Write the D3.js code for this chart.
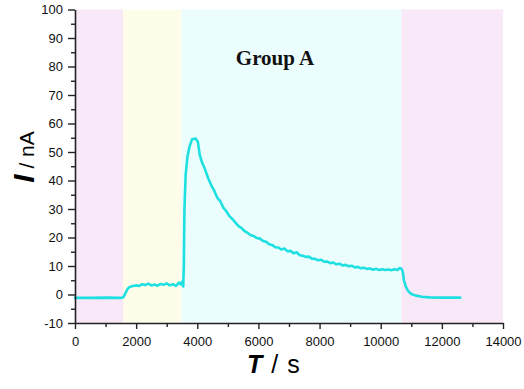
<!DOCTYPE html>
<html>
<head>
<meta charset="utf-8">
<script src="https://cdn.jsdelivr.net/npm/d3@7"></script>
<style>
  body { margin: 0; background: #fff; }
  svg { display: block; font-family: Arial, 'Liberation Sans', sans-serif; }
</style>
</head>
<body>
<svg id="chart"></svg>
<script>
const timeValues = [
  0, 500, 1000, 1500, 1580, 1650, 1720, 1800, 1900, 2000, 2100, 2200, 2300, 2400, 2500,
  2600, 2700, 2800, 2900, 3000, 3100, 3200, 3300, 3400, 3450, 3500, 3540, 3560, 3580, 3620,
  3680, 3750, 3830, 3950, 4020, 4080, 4150, 4250, 4350, 4450, 4550, 4650, 4750, 4850, 4950,
  5050, 5150, 5250, 5350, 5450, 5550, 5650, 5750, 5850, 5950, 6050, 6150, 6250, 6350, 6450,
  6550, 6650, 6750, 6850, 6950, 7050, 7150, 7250, 7350, 7450, 7550, 7650, 7750, 7850, 7950,
  8050, 8150, 8250, 8350, 8450, 8550, 8650, 8750, 8850, 8950, 9050, 9150, 9250, 9350, 9450,
  9550, 9650, 9750, 9850, 9950, 10050, 10150, 10250, 10350, 10450, 10550, 10620, 10680, 10720, 10760,
  10820, 10900, 11000, 11150, 11350, 11600, 12000, 12600
];
const currentValues = [
  -1.2, -1.2, -1.1, -1.2, -1.0, 0.5, 2.0, 2.7, 3.0, 3.2, 3.0, 3.6, 3.3, 3.8, 3.2,
  3.5, 3.1, 3.7, 3.4, 3.9, 3.2, 3.6, 3.0, 4.2, 3.6, 4.4, 2.8, 10, 30, 42,
  48.5, 52, 54.5, 54.7, 53.5, 49, 46.5, 44, 41, 38.5, 36.5, 34, 32.8, 30.5, 29.2,
  27.5, 26.5, 25.2, 24.0, 23.3, 22.2, 21.6, 20.8, 20.5, 19.8, 19.6, 18.8, 18.5, 17.6, 17.4,
  16.6, 16.5, 15.8, 16.1, 15.2, 15.3, 14.5, 14.8, 13.8, 13.6, 13.2, 13.3, 12.6, 12.5, 12.0,
  12.2, 11.5, 11.6, 11.0, 11.2, 10.6, 10.8, 10.2, 10.4, 9.9, 10.1, 9.5, 9.7, 9.2, 9.4,
  9.0, 9.1, 8.7, 9.0, 8.6, 8.9, 8.6, 8.8, 8.5, 8.9, 8.6, 9.3, 9.0, 8.0, 5.0,
  2.8, 1.2, 0.2, -0.4, -0.8, -1.0, -1.1, -1.1
];
const bandStarts = [0, 1570, 3480, 10680];
const bandEnds = [1570, 3480, 10680, 14000];
const bandColors = ['#f8e8f8', '#fdfdea', '#ebfdfd', '#f8e8f8'];
const xTicks = [0, 2000, 4000, 6000, 8000, 10000, 12000, 14000];
const yTicks = [-10, 0, 10, 20, 30, 40, 50, 60, 70, 80, 90, 100];
const titleText = 'Group A';

function drawChart(id) {
  const totalWidth = 524;
  const totalHeight = 389;
  const margin = { top: 9.5, right: 21, bottom: 66, left: 75 };
  const width = totalWidth - margin.left - margin.right;
  const height = totalHeight - margin.top - margin.bottom;

  const svg = d3.select(id).attr('width', totalWidth).attr('height', totalHeight);
  const g = svg.append('g').attr('transform', `translate(${margin.left}, ${margin.top})`);

  const xScale = d3.scaleLinear([0, 14000], [0, width]);
  const yScale = d3.scaleLinear([-10, 100], [height, 0]);
  const plainFormat = (d) => String(d);

  /* background bands */
  g.selectAll('.band')
    .data(bandStarts)
    .enter()
    .append('rect')
    .attr('class', 'band')
    .attr('x', (d) => xScale(d))
    .attr('y', 0)
    .attr('width', (d, i) => xScale(bandEnds[i]) - xScale(d))
    .attr('height', height)
    .attr('fill', (d, i) => bandColors[i]);

  /* title */
  g.append('text')
    .attr('x', xScale(7000) - 14)
    .attr('y', 55.5)
    .attr('text-anchor', 'middle')
    .attr('font-family', "'Liberation Serif', 'Times New Roman', serif")
    .attr('font-weight', 'bold')
    .attr('font-size', 21)
    .attr('fill', '#111')
    .text(titleText);

  /* data line */
  const points = timeValues.map((t, i) => [t, currentValues[i]]);
  g.append('path')
    .attr('fill', 'none')
    .attr('stroke', '#1ee0e0')
    .attr('stroke-width', 2.6)
    .attr('stroke-linejoin', 'round')
    .attr('stroke-linecap', 'round')
    .attr('d', d3.line().x((d) => xScale(d[0])).y((d) => yScale(d[1]))(points));

  /* minor ticks */
  const xMinor = d3.range(1000, 14000, 2000);
  g.append('g')
    .attr('transform', `translate(0, ${height})`)
    .call(d3.axisBottom(xScale).tickValues(xMinor).tickSize(4).tickFormat(''))
    .call((a) => a.select('.domain').remove())
    .selectAll('line')
    .attr('stroke', '#222')
    .attr('stroke-width', 1.4);

  const yMinor = d3.range(-5, 100, 10);
  g.append('g')
    .call(d3.axisLeft(yScale).tickValues(yMinor).tickSize(4).tickFormat(''))
    .call((a) => a.select('.domain').remove())
    .selectAll('line')
    .attr('stroke', '#222')
    .attr('stroke-width', 1.4);

  /* bottom axis */
  const bottomAxis = g
    .append('g')
    .attr('transform', `translate(0, ${height})`)
    .call(d3.axisBottom(xScale).tickValues(xTicks).tickFormat(plainFormat)
      .tickSize(6).tickSizeOuter(0).tickPadding(8));
  bottomAxis.select('.domain').attr('stroke', '#222').attr('stroke-width', 1.6);
  bottomAxis.selectAll('line').attr('stroke', '#222').attr('stroke-width', 1.4);
  bottomAxis.selectAll('text').attr('font-size', 13).attr('fill', '#111')
    .attr('font-family', "Arial, 'Liberation Sans', sans-serif");

  /* left axis */
  const leftAxis = g
    .append('g')
    .call(d3.axisLeft(yScale).tickValues(yTicks).tickFormat(plainFormat)
      .tickSize(7).tickSizeOuter(0).tickPadding(5));
  leftAxis.select('.domain').attr('stroke', '#222').attr('stroke-width', 1.6);
  leftAxis.selectAll('line').attr('stroke', '#222').attr('stroke-width', 1.4);
  leftAxis.selectAll('text').attr('font-size', 13).attr('fill', '#111')
    .attr('font-family', "Arial, 'Liberation Sans', sans-serif");

  /* x axis label */
  const xLabel = svg.append('text')
    .attr('x', 247)
    .attr('y', 373)
    .attr('fill', '#000')
    .attr('font-family', "Arial, 'Liberation Sans', sans-serif")
    .attr('font-size', 25);
  xLabel.append('tspan').attr('font-weight', 'bold').attr('font-style', 'italic').text('T');
  xLabel.append('tspan').attr('dx', 9).text('/');
  xLabel.append('tspan').attr('dx', 9).text('s');

  /* y axis label */
  const yLabel = svg.append('text')
    .attr('transform', 'translate(34, 157) rotate(-90)')
    .attr('text-anchor', 'middle')
    .attr('fill', '#000')
    .attr('font-family', "Arial, 'Liberation Sans', sans-serif")
    .attr('font-size', 21);
  yLabel.append('tspan').attr('font-weight', 'bold').attr('font-style', 'italic')
    .attr('font-size', 30).text('I');
  yLabel.append('tspan').text(' / nA');
}

drawChart('#chart');
</script>
</body>
</html>
